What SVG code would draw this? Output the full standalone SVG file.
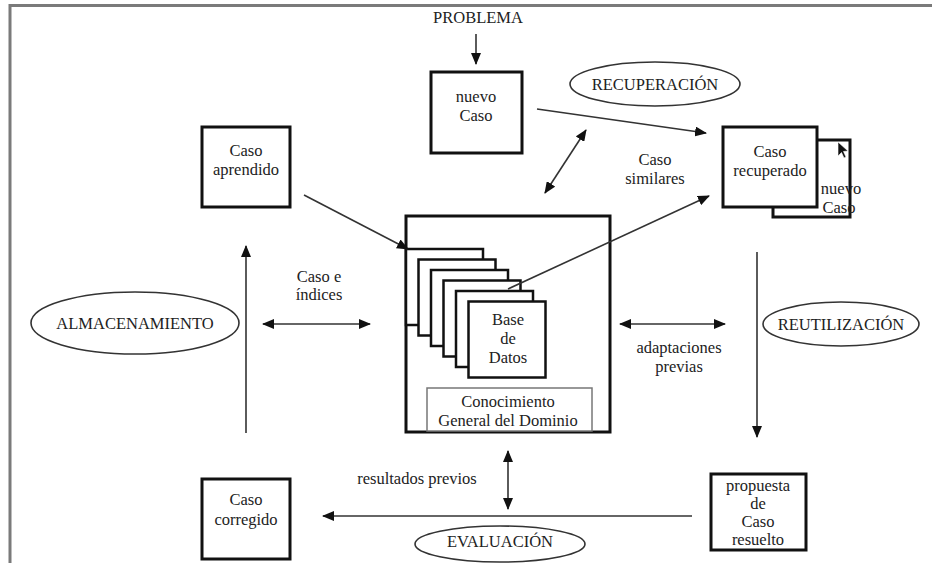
<svg xmlns="http://www.w3.org/2000/svg" width="932" height="563" viewBox="0 0 932 563">
  <style>
    .box { fill: #fff; stroke: #111; stroke-width: 3; }
    .card { fill: #fff; stroke: #111; stroke-width: 2.5; }
    .thin { fill: #fff; stroke: #777; stroke-width: 1.5; }
    .oval { fill: #fff; stroke: #333; stroke-width: 1.6; }
    .lbl { font-family: "Liberation Serif", "Times New Roman", serif; font-size: 16.5px; fill: #222; text-anchor: middle; }
    .cap { font-family: "Liberation Serif", "Times New Roman", serif; font-size: 16.5px; fill: #222; text-anchor: middle; }
    .conn line { stroke: #333; stroke-width: 1.6; fill: none; }
    .frame { stroke: #7a7a7a; stroke-width: 3; fill: none; }
  </style>
  <defs>
    <marker id="arrow" viewBox="0 0 12 10" refX="11" refY="5" markerWidth="12" markerHeight="10" markerUnits="userSpaceOnUse" orient="auto-start-reverse">
      <path d="M0,0 L12,5 L0,10 z" fill="#111"/>
    </marker>
  </defs>

  <rect x="0" y="0" width="932" height="563" fill="#fff"/>

  <!-- page frame -->
  <path class="frame" d="M932,5.5 L10,5.5 L10,563"/>

  <!-- input label -->
  <g id="problema">
    <text class="cap" x="478" y="23">PROBLEMA</text>
  </g>

  <g id="nuevo-caso">
    <rect class="box" x="431" y="72" width="91" height="81"/>
    <text class="lbl" x="476" y="102">nuevo</text>
    <text class="lbl" x="476" y="121">Caso</text>
  </g>

  <g id="recuperacion">
    <ellipse class="oval" cx="655" cy="84" rx="85" ry="22"/>
    <text class="cap" x="655" y="90">RECUPERACIÓN</text>
  </g>

  <g id="caso-recuperado">
    <rect class="box" x="773" y="140" width="77" height="77"/>
    <text class="lbl" x="841" y="194">nuevo</text>
    <text class="lbl" x="839" y="213">Caso</text>
    <rect class="box" x="723" y="127" width="94" height="80"/>
    <text class="lbl" x="770" y="157">Caso</text>
    <text class="lbl" x="770" y="176">recuperado</text>
    <!-- pointer glyph -->
    <path d="M838,142 L838,156 L841.5,152.5 L844,158 L846,157 L843.5,151.5 L848,151 Z" fill="#111" stroke="#fff" stroke-width="0.6"/>
  </g>

  <g id="caso-aprendido">
    <rect class="box" x="202" y="127" width="88" height="80"/>
    <text class="lbl" x="246" y="156">Caso</text>
    <text class="lbl" x="246" y="175">aprendido</text>
  </g>

  <g id="base-datos">
    <rect class="box" x="406" y="216" width="204" height="216"/>
    <rect class="card" x="406" y="249" width="77" height="76"/>
    <rect class="card" x="418.5" y="259.5" width="77" height="76"/>
    <rect class="card" x="431" y="270" width="77" height="76"/>
    <rect class="card" x="443.5" y="280.5" width="77" height="76"/>
    <rect class="card" x="456" y="291" width="77" height="76"/>
    <rect class="card" x="468.5" y="301.5" width="77" height="76"/>
    <text class="lbl" x="508" y="325">Base</text>
    <text class="lbl" x="508" y="344">de</text>
    <text class="lbl" x="508" y="363">Datos</text>
    <rect class="thin" x="427" y="388" width="165" height="43"/>
    <text class="lbl" x="508" y="407">Conocimiento</text>
    <text class="lbl" x="508" y="426">General del Dominio</text>
  </g>

  <g id="almacenamiento">
    <ellipse class="oval" cx="135" cy="323" rx="104" ry="31"/>
    <text class="cap" x="135" y="329">ALMACENAMIENTO</text>
  </g>

  <g id="reutilizacion">
    <ellipse class="oval" cx="841" cy="324" rx="78" ry="22"/>
    <text class="cap" x="841" y="330">REUTILIZACIÓN</text>
  </g>

  <g id="caso-corregido">
    <rect class="box" x="202" y="479" width="88" height="80"/>
    <text class="lbl" x="246" y="505">Caso</text>
    <text class="lbl" x="246" y="525">corregido</text>
  </g>

  <g id="propuesta">
    <rect class="box" x="711" y="474" width="95" height="76"/>
    <text class="lbl" x="758" y="491">propuesta</text>
    <text class="lbl" x="758" y="509">de</text>
    <text class="lbl" x="758" y="527">Caso</text>
    <text class="lbl" x="758" y="545">resuelto</text>
  </g>

  <g id="evaluacion">
    <ellipse class="oval" cx="500" cy="544" rx="85" ry="18"/>
    <text class="cap" x="500" y="547">EVALUACIÓN</text>
  </g>

  <!-- edge labels -->
  <g id="edge-labels">
    <text class="lbl" x="655" y="165">Caso</text>
    <text class="lbl" x="655" y="184">similares</text>
    <text class="lbl" x="319" y="282">Caso e</text>
    <text class="lbl" x="319" y="300">índices</text>
    <text class="lbl" x="679" y="353">adaptaciones</text>
    <text class="lbl" x="679" y="372">previas</text>
    <text class="lbl" x="417" y="484">resultados previos</text>
  </g>

  <g id="connectors" class="conn">
    <line x1="476" y1="34" x2="476" y2="64" marker-end="url(#arrow)"/>
    <line x1="537" y1="109" x2="706" y2="133" marker-end="url(#arrow)"/>
    <line x1="545" y1="193" x2="586" y2="130" marker-start="url(#arrow)" marker-end="url(#arrow)"/>
    <line x1="304" y1="195" x2="408" y2="249" marker-end="url(#arrow)"/>
    <line x1="508" y1="289" x2="709" y2="196" marker-end="url(#arrow)"/>
    <line x1="263" y1="324" x2="370" y2="324" marker-start="url(#arrow)" marker-end="url(#arrow)"/>
    <line x1="246" y1="433" x2="246" y2="246" marker-end="url(#arrow)"/>
    <line x1="620" y1="324" x2="725" y2="324" marker-start="url(#arrow)" marker-end="url(#arrow)"/>
    <line x1="757" y1="252" x2="757" y2="437" marker-end="url(#arrow)"/>
    <line x1="508" y1="451" x2="508" y2="509" marker-start="url(#arrow)" marker-end="url(#arrow)"/>
    <line x1="692" y1="516" x2="323" y2="516" marker-end="url(#arrow)"/>
  </g>
</svg>
